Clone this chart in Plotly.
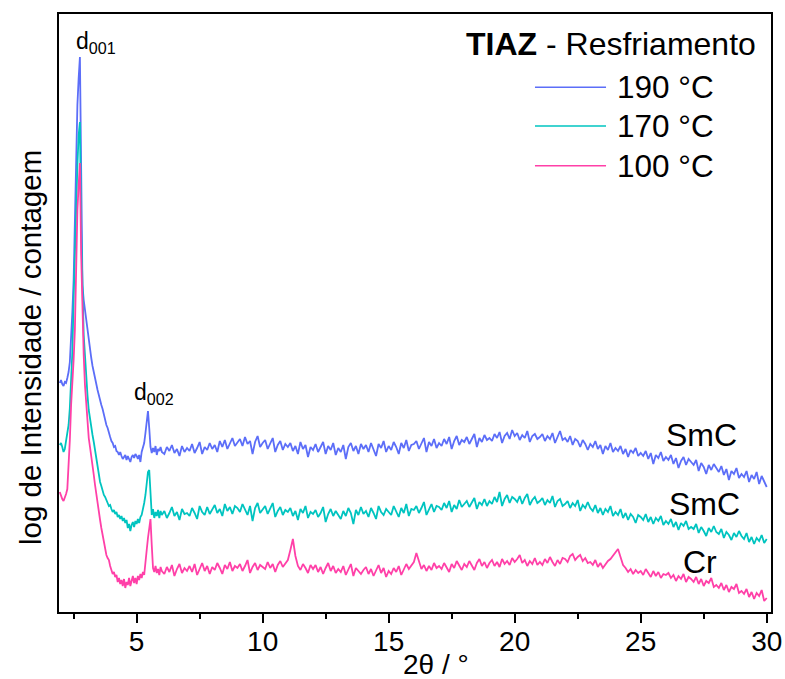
import numpy as np
import plotly.graph_objects as go

# 2-theta sampling: fine steps across the d001/d002 reflections, coarser afterwards
two_theta_fine = np.round(np.arange(1.95, 6.001, 0.05), 2)
two_theta_coarse = np.round(np.arange(6.1, 30.001, 0.1), 1)
two_theta = np.concatenate([two_theta_fine, two_theta_coarse])

# log intensity (a.u., vertically offset per temperature)
int_190_fine = [
    229, 232, 228, 226, 230, 229, 234, 240, 250, 270,
    300, 332, 387, 462, 507, 534, 555, 442, 327, 312,
    302, 290, 279, 270, 262, 254, 246, 241, 234, 228,
    222, 216, 212, 207, 203, 197, 193, 187, 184, 178,
    175, 171, 169, 165, 166, 161, 160, 157, 160, 156,
    153, 155, 157, 152, 156, 153, 150, 155, 157, 154,
    158, 156, 153, 157, 150, 160, 164, 169, 179, 192,
    201, 184, 165, 159, 164, 160, 166, 157, 163, 161,
    165, 160,
]
int_190_coarse = [
    158, 165, 161, 167, 159, 163, 156, 166, 160, 164,
    161, 168, 159, 164, 170, 158, 165, 162, 169, 163,
    167, 160, 171, 165, 172, 163, 169, 174, 166, 170,
    173, 166, 175, 168, 171, 158, 170, 176, 165, 169,
    172, 163, 168, 174, 160, 167, 171, 162, 168, 165,
    169, 161, 166, 158, 170, 163, 167, 155, 165, 162,
    168, 160, 165, 170, 158, 166, 162, 169, 157, 164,
    160, 167, 153, 165, 169, 161, 166, 158, 168, 163,
    167, 160, 169, 163, 156, 168, 164, 171, 160, 166,
    162, 170, 165, 158, 169, 164, 172, 161, 167, 168,
    171, 163, 168, 174, 160, 170, 166, 173, 164, 169,
    166, 173, 168, 175, 163, 171, 176, 167, 172, 170,
    175, 168, 173, 178, 165, 174, 170, 177, 172, 174,
    171, 178, 174, 180, 169, 176, 179, 173, 182, 176,
    179, 172, 177, 174, 181, 170, 176, 178, 173, 175,
    178, 171, 176, 173, 179, 169, 175, 181, 172, 174,
    170, 176, 167, 173, 171, 165, 172, 168, 162, 168,
    165, 171, 163, 167, 158, 166, 162, 169, 160, 164,
    161, 166, 158, 163, 155, 162, 159, 164, 156, 159,
    156, 161, 153, 159, 148, 157, 154, 160, 151, 155,
    152, 157, 148, 154, 144, 151, 155, 147, 153, 150,
    147, 152, 141, 149, 145, 138, 147, 142, 148, 144,
    140, 146, 137, 143, 132, 141, 138, 144, 134, 138,
    135, 141, 130, 137, 133, 140, 128, 136, 131, 125,
]

int_170_fine = [
    167, 169, 165, 160, 163, 172, 176, 187, 204, 227,
    260, 312, 367, 417, 447, 477, 490, 382, 317, 277,
    257, 232, 217, 202, 192, 184, 177, 170, 162, 154,
    145, 136, 130, 126, 120, 117, 115, 111, 109, 106,
    107, 103, 100, 102, 98, 100, 95, 97, 93, 96,
    91, 94, 89, 92, 84, 88, 81, 87, 90, 85,
    91, 88, 93, 89, 95, 97, 102, 109, 117, 129,
    140, 142, 112, 97, 103, 94, 100, 96, 102, 94,
    101, 97,
]
int_170_coarse = [
    101, 94, 99, 105, 96, 100, 92, 103, 98, 99,
    96, 104, 99, 93, 106, 100, 97, 105, 98, 102,
    107, 99, 103, 96, 108, 101, 105, 98, 106, 104,
    100, 108, 102, 97, 106, 91, 104, 109, 99, 103,
    106, 98, 103, 109, 95, 101, 105, 97, 102, 100,
    104, 96, 101, 92, 103, 99, 106, 94, 100, 98,
    102, 95, 99, 105, 90, 98, 103, 96, 101, 97,
    93, 101, 96, 104, 99, 88, 102, 97, 105, 98,
    101, 95, 104, 99, 93, 106, 100, 97, 103, 100,
    97, 106, 101, 95, 104, 99, 108, 96, 103, 102,
    106, 99, 104, 110, 97, 103, 108, 100, 106, 105,
    102, 109, 104, 111, 100, 107, 103, 112, 105, 108,
    111, 105, 109, 114, 103, 110, 107, 113, 106, 111,
    108, 115, 110, 120, 106, 113, 117, 109, 115, 113,
    110, 116, 108, 114, 118, 107, 112, 115, 109, 111,
    114, 107, 112, 109, 116, 105, 111, 113, 106, 108,
    111, 104, 109, 106, 112, 101, 107, 104, 110, 104,
    101, 107, 99, 104, 97, 103, 100, 106, 96, 100,
    97, 103, 94, 99, 92, 98, 95, 89, 97, 95,
    92, 98, 90, 95, 88, 94, 91, 96, 87, 91,
    88, 93, 85, 90, 82, 89, 86, 91, 83, 85,
    83, 88, 79, 85, 81, 76, 84, 80, 86, 80,
    78, 83, 74, 80, 77, 72, 79, 75, 81, 76,
    73, 79, 70, 75, 68, 74, 71, 77, 69, 73,
]

int_100_fine = [
    120, 115, 113, 111, 114, 118, 123, 142, 172, 207,
    227, 252, 282, 357, 402, 427, 449, 357, 302, 257,
    227, 207, 187, 174, 165, 157, 147, 137, 127, 117,
    109, 100, 92, 84, 77, 67, 60, 57, 54, 52,
    46, 42, 38, 40, 35, 37, 30, 34, 28, 32,
    26, 33, 24, 30, 27, 34, 26, 31, 36, 29,
    34, 28, 36, 32, 38, 34, 40, 37, 47, 62,
    74, 87, 93, 67, 44, 40, 46, 39, 43, 37,
    45, 41,
]
int_100_coarse = [
    38, 45, 40, 47, 36, 43, 48, 39, 44, 41,
    46, 40, 48, 37, 44, 49, 41, 46, 38, 45,
    42, 49, 44, 38, 47, 43, 50, 41, 46, 44,
    48, 41, 46, 52, 39, 45, 49, 42, 47, 45,
    43, 50, 44, 48, 40, 47, 51, 45, 49, 52,
    62, 73, 56, 46, 42, 48, 44, 39, 47, 43,
    47, 40, 45, 38, 44, 49, 41, 46, 39, 43,
    40, 46, 37, 43, 48, 36, 44, 41, 38, 42,
    45, 38, 43, 36, 41, 47, 39, 44, 35, 41,
    38, 44, 40, 46, 37, 42, 48, 43, 47, 50,
    59, 50, 43, 47, 41, 46, 42, 49, 44, 46,
    43, 49, 45, 40, 48, 44, 51, 46, 42, 48,
    45, 51, 47, 42, 49, 53, 46, 50, 44, 49,
    52, 46, 50, 45, 53, 48, 51, 47, 54, 50,
    53, 57, 49, 52, 46, 51, 48, 54, 47, 50,
    47, 53, 49, 55, 50, 46, 52, 48, 54, 53,
    50, 56, 58, 52, 55, 57, 51, 54, 49, 50,
    47, 52, 45, 49, 44, 48, 51, 53, 56, 60,
    63, 55, 47, 44, 40, 43, 38, 42, 39, 41,
    37, 43, 39, 35, 41, 36, 40, 34, 38, 37,
    39, 34, 37, 31, 36, 33, 38, 30, 35, 33,
    30, 35, 28, 33, 26, 31, 29, 34, 25, 27,
    24, 29, 22, 27, 20, 25, 23, 28, 19, 21,
    18, 23, 15, 20, 13, 19, 16, 22, 11, 14,
]

temperatures = ["190 °C", "170 °C", "100 °C"]
colors = ["#5C6EF8", "#00C4C0", "#FF40A8"]
phase_labels = ["SmC", "SmC", "Cr"]
phase_label_pos = [(27.4, 177), (27.54, 108), (27.37, 50)]
intensities = [
    int_190_fine + int_190_coarse,
    int_170_fine + int_170_coarse,
    int_100_fine + int_100_coarse,
]
for s in intensities:
    assert len(s) == len(two_theta), (len(s), len(two_theta))

FONT = "Liberation Sans, Arial, sans-serif"

fig = go.Figure()
for name, col, y in zip(temperatures, colors, intensities):
    fig.add_trace(go.Scatter(x=two_theta, y=y, mode="lines", name=name,
                             line=dict(color=col, width=1.8), showlegend=False))


def label(text, x, y, size, ref="data", **kw):
    r = ("x", "y") if ref == "data" else ("paper", "paper")
    d = dict(x=x, y=y, xref=r[0], yref=r[1], text=text, showarrow=False,
             xanchor="center", yanchor="middle",
             font=dict(size=size, color="black", family=FONT))
    d.update(kw)
    return d


annotations = []
# reflection labels
annotations.append(label("d<sub>001</sub>", 3.385, 570, 23))
annotations.append(label("d<sub>002</sub>", 5.69, 219, 23))
# mesophase labels
for lab, (px, py) in zip(phase_labels, phase_label_pos):
    annotations.append(label(lab, px, py, 32))

# axis titles
annotations.append(label("log de Intensidade / contagem", -0.0393, 0.4415, 29.5,
                         ref="paper", textangle=-90))
annotations.append(label("2θ / °", 0.5295, -0.087, 28, ref="paper"))

# legend block
annotations.append(label("<b>TIAZ</b> - Resfriamento", 0.9817, 0.9498, 32,
                         ref="paper", xanchor="right"))
legend_rows = [0.8774, 0.8127, 0.7463]
shapes = []
for name, col, ly in zip(temperatures, colors, legend_rows):
    shapes.append(dict(type="line", xref="paper", yref="paper", x0=0.6685, x1=0.7683,
                       y0=ly, y1=ly, line=dict(color=col, width=1.6)))
    annotations.append(label(name, 0.7810, ly, 31.5, ref="paper", xanchor="left"))

fig.update_layout(
    width=785, height=679,
    margin=dict(l=59, r=14, t=14, b=67, autoexpand=False),
    paper_bgcolor="white", plot_bgcolor="white",
    font=dict(family=FONT, color="black"),
    annotations=annotations, shapes=shapes,
)
fig.update_xaxes(range=[1.92, 30.17], showline=True, linecolor="black", linewidth=1.8,
                 mirror=True, ticks="outside", ticklen=9, tickwidth=1.8, tickcolor="black",
                 tick0=0, dtick=5, showgrid=False, zeroline=False, automargin=False,
                 ticklabelstandoff=-6,
                 tickfont=dict(size=28, color="black", family=FONT),
                 minor=dict(ticks="outside", ticklen=5, tickwidth=1.5, tickcolor="black",
                            tick0=0, dtick=2.5, showgrid=False))
fig.update_yaxes(range=[0, 598], showline=True, linecolor="black", linewidth=1.8,
                 mirror=True, ticks="", showticklabels=False, showgrid=False, zeroline=False,
                 automargin=False)

fig.write_html("out.html")
